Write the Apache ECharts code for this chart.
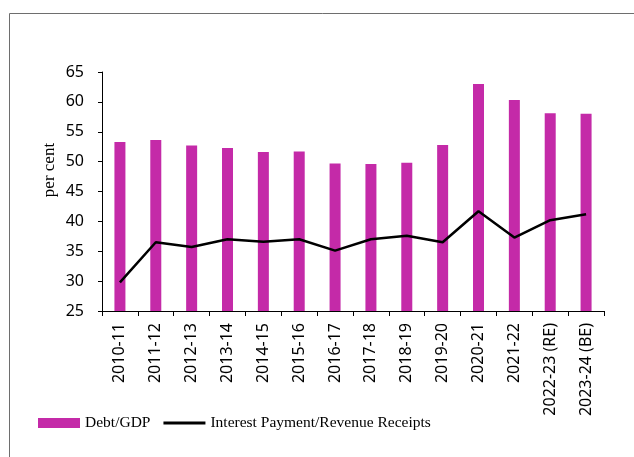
<!DOCTYPE html>
<html><head><meta charset="utf-8">
<script src="https://cdn.jsdelivr.net/npm/echarts@6/dist/echarts.min.js"></script>
<style>html,body{margin:0;padding:0;background:#fff}#c{width:634px;height:457px}</style>
</head><body><div id="c"></div>
<script>
const categories = ['2010-11','2011-12','2012-13','2013-14','2014-15','2015-16','2016-17','2017-18','2018-19','2019-20','2020-21','2021-22','2022-23 (RE)','2023-24 (BE)'];
const debtGdp = [53.3, 53.6, 52.7, 52.3, 51.6, 51.7, 49.7, 49.6, 49.8, 52.8, 63.0, 60.3, 58.1, 58.0];
const interestRevenue = [29.8, 36.5, 35.7, 37.0, 36.6, 37.0, 35.1, 37.0, 37.6, 36.5, 41.7, 37.3, 40.2, 41.2];
const yTicks = {min: 25, max: 65, interval: 5};
const yAxisTitle = 'per cent';

const chart = echarts.init(document.getElementById('c'));
chart.setOption({
  animation: false,
  graphic: [
    {type:'rect', shape:{x:9.5, y:13.5, width:700, height:600}, style:{fill:'none', stroke:'#6e6e6e', lineWidth:1}},
    {type:'text', x:50, y:170, rotation:Math.PI/2, style:{text:yAxisTitle, font:'17px "Liberation Serif"', fill:'#000', align:'center', verticalAlign:'middle'}}
  ],
  grid: {left:102, right:30, top:72, bottom:146},
  legend: {
    left: 38, top: 415, padding: 0, itemWidth: 42, itemHeight: 10, itemGap: 13,
    textStyle: {fontFamily:'Liberation Serif', fontSize:15.5, color:'#000'},
    data: [
      {name:'Debt/GDP', icon:'rect'},
      {name:'Interest Payment/Revenue Receipts', icon:'path://M0,0L44,0L44,3L0,3Z', itemStyle:{color:'#000'}}
    ]
  },
  xAxis: {
    type:'category', data: categories, boundaryGap:true,
    axisLine:{lineStyle:{color:'#000', width:1}},
    axisTick:{show:true, length:5, lineStyle:{color:'#000'}},
    axisLabel:{rotate:90, fontFamily:'Noto Sans', fontSize:16, color:'#000', margin:12, interval:0}
  },
  yAxis: {
    type:'value', min: yTicks.min, max: yTicks.max, interval: yTicks.interval,
    axisLine:{show:true, lineStyle:{color:'#000', width:1}},
    axisTick:{show:true, length:4, lineStyle:{color:'#000'}},
    splitLine:{show:false},
    axisLabel:{fontFamily:'Noto Sans', fontSize:16, color:'#000', margin:18}
  },
  series: [
    {name:'Debt/GDP', type:'bar', data: debtGdp, barWidth:11, itemStyle:{color:'#C42AA8'}},
    {name:'Interest Payment/Revenue Receipts', type:'line', data: interestRevenue, symbol:'none', lineStyle:{color:'#000', width:2.5}, itemStyle:{color:'#000'}}
  ]
});
</script></body></html>
